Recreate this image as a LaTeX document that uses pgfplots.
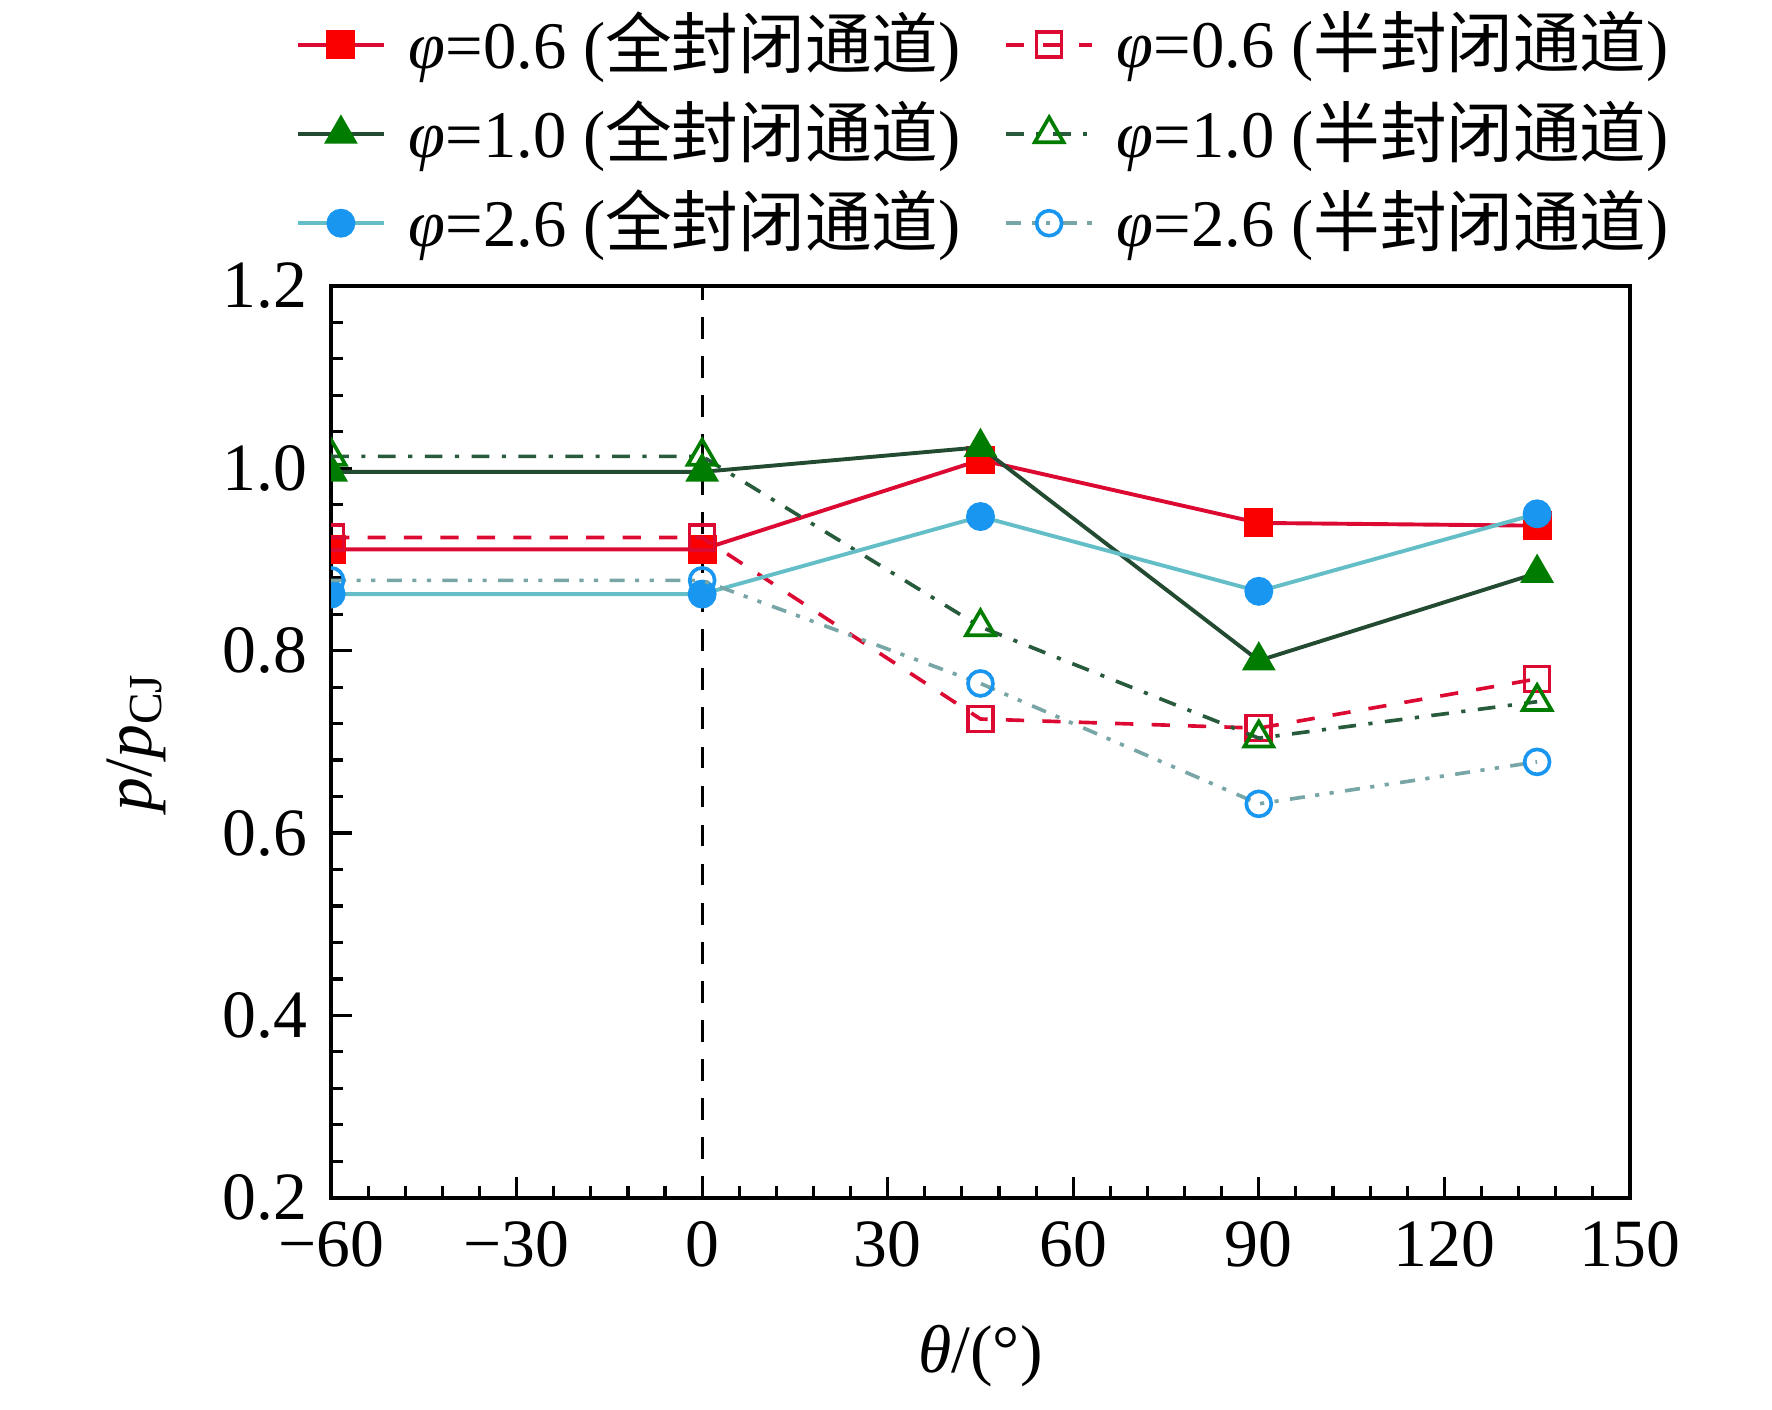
\documentclass[border=0pt]{standalone}
\usepackage{pgfplots}
\pgfplotsset{compat=1.18}
\usepackage{fontspec}
\setmainfont{Liberation Serif}
\newfontfamily\cjk{Noto Sans CJK SC}
\definecolor{cred}{RGB}{220,10,50}
\definecolor{mred}{RGB}{250,0,0}
\definecolor{cgrnl}{RGB}{35,75,50}
\definecolor{mgrn}{RGB}{0,125,0}
\definecolor{cblul}{RGB}{100,190,200}
\definecolor{mblu}{RGB}{25,150,240}
\definecolor{cgrnh}{RGB}{40,90,60}
\definecolor{cbluh}{RGB}{120,165,165}
\begin{document}
\fontsize{13}{15}\selectfont
\begin{tikzpicture}
\begin{axis}[
  scale only axis,
  width=249.5pt, height=175.2pt,
  xmin=-60, xmax=150, ymin=0.2, ymax=1.2,
  xtick={-60,-30,0,30,60,90,120,150},
  xticklabels={−60,−30,0,30,60,90,120,150},
  ytick={0.2,0.4,0.6,0.8,1.0,1.2},
  yticklabels={0.2,0.4,0.6,0.8,1.0,1.2},
  minor x tick num=4, minor y tick num=4,
  tick pos=left, tick align=inside,
  major tick length=4pt, minor tick length=2.2pt,
  every tick/.style={black, line width=0.6pt},
  axis line style={line width=0.8pt},
  ticklabel style={font=\fontsize{13}{15}\selectfont},
  xlabel={\textit{θ}/(°)},
  ylabel={\textit{p}/\textit{p}\textsubscript{CJ}},
  xlabel style={at={(axis description cs:0.5,-0.1735)}, anchor=center, font=\fontsize{13}{15}\selectfont},
  ylabel style={at={(axis description cs:-0.150,0.5)}, anchor=center, font=\fontsize{13}{15}\selectfont},
  clip marker paths=true,
  legend columns=2,
  legend cell align=left,
  legend style={draw=none, fill=none, at={(-0.027,1.3124)}, anchor=north west,
    inner sep=0pt, outer sep=0pt, row sep=0.3pt,
    font=\fontsize{12.8}{14.5}\selectfont,
    /tikz/every odd column/.append style={column sep=2.4pt},
    /tikz/every even column/.append style={column sep=6.4pt}},
  legend image code/.code={\draw[mark repeat=2,mark phase=2,#1] plot coordinates {(0cm,0cm) (0.29cm,0cm) (0.58cm,0cm)};},
]
\addplot[black, line width=0.6pt, dash pattern=on 4.2pt off 3.3pt, forget plot] coordinates {(0,0.2) (0,1.2)};
% phi=0.6 full
\addplot[cred, line width=0.75pt, mark=square*, mark size=2.4pt, mark options={solid, fill=mred, draw=mred}] coordinates {
(-60,0.911) (0,0.911) (45,1.009) (90,0.940) (135,0.937)};
\addlegendentry{\textit{φ}=0.6 ({\cjk 全封闭通道})}
% phi=0.6 half
\addplot[cred, line width=0.7pt, dash pattern=on 3.5pt off 3.5pt, mark=square, mark size=2.4pt, mark options={solid, fill=white, draw=cred}] coordinates {
(-60,0.924) (0,0.924) (45,0.725) (90,0.715) (135,0.769)};
\addlegendentry{\textit{φ}=0.6 ({\cjk 半封闭通道})}
% phi=1.0 full
\addplot[cgrnl, line width=0.75pt, mark=triangle*, mark size=3pt, mark options={solid, fill=mgrn, draw=mgrn}] coordinates {
(-60,0.996) (0,0.996) (45,1.023) (90,0.789) (135,0.885)};
\addlegendentry{\textit{φ}=1.0 ({\cjk 全封闭通道})}
% phi=1.0 half
\addplot[cgrnh, line width=0.7pt, dash pattern=on 3.4pt off 2.4pt on 0.8pt off 2.4pt, mark=triangle, mark size=3.2pt, mark options={solid, fill=white, draw=mgrn}] coordinates {
(-60,1.013) (0,1.013) (45,0.826) (90,0.704) (135,0.744)};
\addlegendentry{\textit{φ}=1.0 ({\cjk 半封闭通道})}
% phi=2.6 full
\addplot[cblul, line width=0.75pt, mark=*, mark size=2.4pt, mark options={solid, fill=mblu, draw=mblu}] coordinates {
(-60,0.862) (0,0.862) (45,0.947) (90,0.865) (135,0.950)};
\addlegendentry{\textit{φ}=2.6 ({\cjk 全封闭通道})}
% phi=2.6 half
\addplot[cbluh, line width=0.7pt, dash pattern=on 2.9pt off 2pt on 0.8pt off 2pt on 0.8pt off 2.2pt, mark=o, mark size=2.4pt, mark options={solid, fill=white, draw=mblu}] coordinates {
(-60,0.877) (0,0.877) (45,0.764) (90,0.632) (135,0.678)};
\addlegendentry{\textit{φ}=2.6 ({\cjk 半封闭通道})}
\end{axis}
\path (current axis.south west) ++(-63.6pt,-37.7pt) rectangle ++(340.4pt,267.8pt);
\end{tikzpicture}
\end{document}
